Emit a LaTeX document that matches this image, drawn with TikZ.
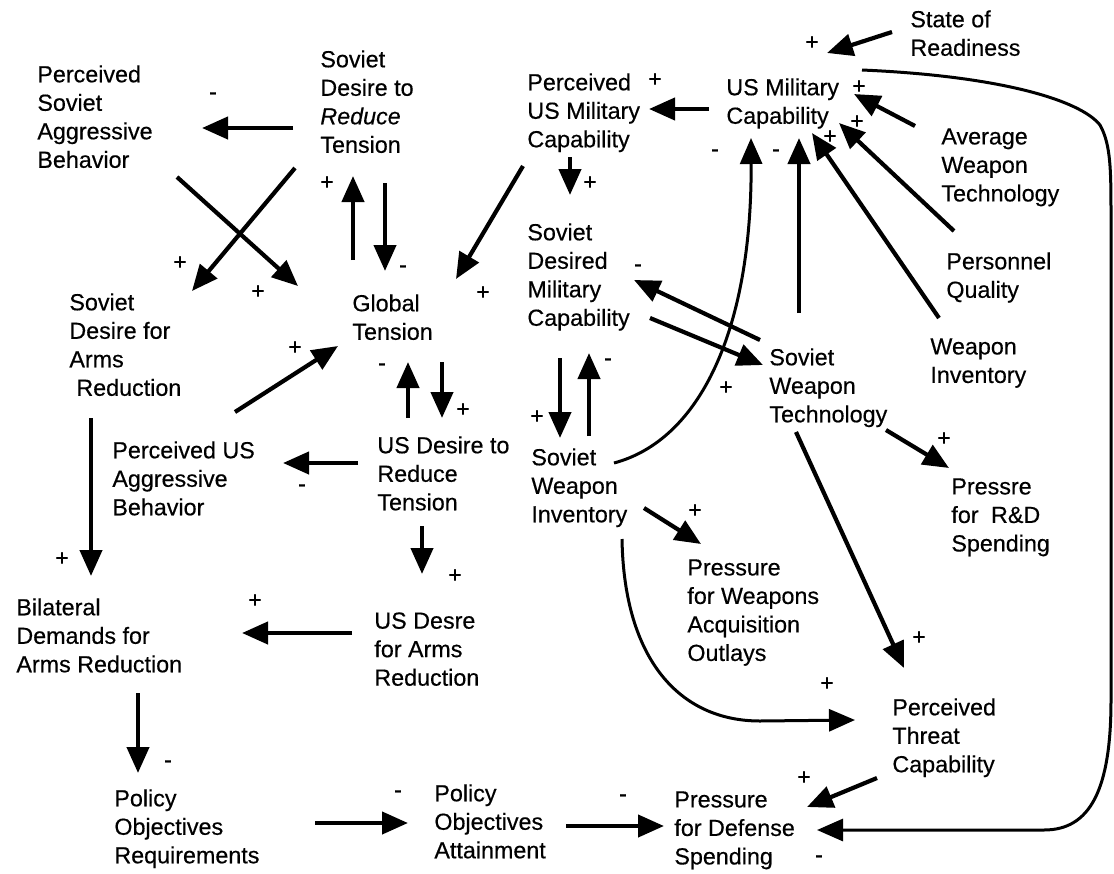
\documentclass[tikz,border=0pt]{standalone}
\usepackage{fontspec}
\setmainfont[FakeBold=0.4]{Liberation Sans}
\usepackage{tikz}
\usetikzlibrary{arrows.meta}

\begin{document}
\begin{tikzpicture}[x=0.5pt, y=-0.5pt,
    var/.style={align=left, anchor=north west, inner sep=0pt,
    font=\fontsize{11.65}{14.25}\selectfont},
    sign/.style={inner sep=0pt, font=\fontsize{11.65}{14.25}\selectfont},
    flow/.style={-{Triangle[length=13pt, width=11pt]}, line width=2.1pt},
    loopflow/.style={-{Triangle[length=13pt, width=11pt]}, line width=1.5pt}
]
\useasboundingbox (0,0) rectangle (1114,873);

% left column
\node[var] (psab) at (37,65) {Perceived\\Soviet\\Aggressive\\Behavior};
\node[var] (sdar) at (69,293) {Soviet\\Desire for\\Arms\\\hspace{3.5pt}Reduction};
\node[var] (pusab) at (112,441) {Perceived US\\Aggressive\\Behavior};
\node[var] (bdar) at (16,598) {Bilateral\\Demands for\\Arms Reduction};
\node[var] (por) at (114,789) {Policy\\Objectives\\Requirements};
% tension
\node[var] (sdrt) at (320,50) {Soviet\\Desire to\\\textit{Reduce}\\Tension};
\node[var] (gt) at (352,294) {Global\\Tension};
\node[var] (usdrt) at (377,436) {US Desire to\\Reduce\\Tension};
\node[var] (usdar) at (374,612) {US Desre\\for Arms\\Reduction};
\node[var] (poa) at (434,784) {Policy\\Objectives\\Attainment};
% soviet side
\node[var] (pusmc) at (527,73) {Perceived\\US Military\\Capability};
\node[var] (sdmc) at (527,223) {Soviet\\Desired\\Military\\Capability};
\node[var] (swi) at (531,448) {Soviet\\Weapon\\Inventory};
\node[var] (pwao) at (687,559) {Pressure\\for Weapons\\Acquisition\\Outlays};
\node[var] (pds) at (674,791) {Pressure\\for Defense\\Spending};
% US capability
\node[var] (usmc) at (726,78) {US Military\\Capability};
\node[var] (sor) at (910,10) {State of\\Readiness};
\node[var] (awt) at (941,128) {Average\\Weapon\\Technology};
\node[var] (pq) at (946,252) {Personnel\\Quality};
\node[var] (wi) at (930,338) {Weapon\\Inventory};
\node[var] (swt) at (769,348) {Soviet\\Weapon\\Technology};
\node[var] (prd) at (951,478) {Pressre\\for\hspace{3pt} R\&D\\Spending};
\node[var] (ptc) at (892,698) {Perceived\\Threat\\Capability};

% links round global tension
\draw[flow] ([shift={(-27,78)}]sdrt.north west) -- ([shift={(165,63)}]psab.north west);
\draw[flow] ([shift={(140,112)}]psab.north west) -- ([shift={(-54,-8)}]gt.north west);
\draw[flow] ([shift={(-25,118)}]sdrt.north west) -- ([shift={(123,-2)}]sdar.north west);
\draw[flow] ([shift={(1,-34)}]gt.north west) -- ([shift={(33,126)}]sdrt.north west);
\draw[flow] ([shift={(65,133)}]sdrt.north west) -- ([shift={(33,-23)}]gt.north west);
\draw[flow] ([shift={(-4,93)}]pusmc.north west) -- ([shift={(104,-15)}]gt.north west);
\draw[flow] ([shift={(166,119)}]sdar.north west) -- ([shift={(-14,52)}]gt.north west);
\draw[flow] ([shift={(31,-18)}]usdrt.north west) -- ([shift={(56,68)}]gt.north west);
\draw[flow] ([shift={(90,68)}]gt.north west) -- ([shift={(65,-18)}]usdrt.north west);
\draw[flow] ([shift={(22,125)}]sdar.north west) -- ([shift={(75,-22)}]bdar.north west);
\draw[flow] ([shift={(-19,27)}]usdrt.north west) -- ([shift={(171,22)}]pusab.north west);
\draw[flow] ([shift={(45,90)}]usdrt.north west) -- ([shift={(48,-38)}]usdar.north west);
\draw[flow] ([shift={(-22,21)}]usdar.north west) -- ([shift={(226,35)}]bdar.north west);
\draw[flow] ([shift={(122,95)}]bdar.north west) -- ([shift={(24,-16)}]por.north west);
\draw[flow] ([shift={(201,34)}]por.north west) -- ([shift={(-26,39)}]poa.north west);
\draw[flow] ([shift={(132,42)}]poa.north west) -- ([shift={(-10,35)}]pds.north west);

% links round US military capability
\draw[flow] ([shift={(-18,22)}]sor.north west) -- ([shift={(101,-25)}]usmc.north west);
\draw[flow] ([shift={(-26,-2)}]awt.north west) -- ([shift={(128,16)}]usmc.north west);
\draw[flow] ([shift={(8,-21)}]pq.north west) -- ([shift={(113,45)}]usmc.north west);
\draw[flow] ([shift={(9,-20)}]wi.north west) -- ([shift={(86,55)}]usmc.north west);
\draw[flow] ([shift={(30,-35)}]swt.north west) -- ([shift={(73,60)}]usmc.north west);
\draw[flow] ([shift={(-17,31)}]usmc.north west) -- ([shift={(122,36)}]pusmc.north west);
\draw[flow] ([shift={(43,84)}]pusmc.north west) -- ([shift={(43,-28)}]sdmc.north west);
\draw[flow] ([shift={(123,95)}]sdmc.north west) -- ([shift={(-6,17)}]swt.north west);
\draw[flow] ([shift={(-9,-8)}]swt.north west) -- ([shift={(107,57)}]sdmc.north west);
\draw[flow] ([shift={(33,135)}]sdmc.north west) -- ([shift={(29,-10)}]swi.north west);
\draw[flow] ([shift={(58,-12)}]swi.north west) -- ([shift={(62,130)}]sdmc.north west);
\draw[flow] ([shift={(117,82)}]swt.north west) -- ([shift={(-2,-10)}]prd.north west);
\draw[flow] ([shift={(27,84)}]swt.north west) -- ([shift={(12,-30)}]ptc.north west);
\draw[flow] ([shift={(113,60)}]swi.north west) -- ([shift={(14,-15)}]pwao.north west);
\draw[flow] ([shift={(-15,80)}]ptc.north west) -- ([shift={(133,16)}]pds.north west);

% curved links
\draw[loopflow] ([shift={(83,15)}]swi.north west) .. controls (700,440) and (752,330)
    .. ([shift={(25,60)}]usmc.north west);
\draw[loopflow] ([shift={(91,91)}]swi.north west) .. controls (624,660) and (680,721)
    .. (760,721) -- ([shift={(-37,22)}]ptc.north west);
\draw[loopflow] ([shift={(136,-8)}]usmc.north west) .. controls (1000,76) and (1080,100)
    .. (1100,125) .. controls (1111,145) and (1111,170) .. (1111,220) -- (1111,700)
    .. controls (1111,790) and (1090,830) .. (1044,830) -- ([shift={(143,39)}]pds.north west);

% polarities
\node[sign] (sg1) at (213,96) {-};
\node[sign] (sg2) at (258,292) {+};
\node[sign] (sg3) at (180,263) {+};
\node[sign] (sg4) at (327,183) {+};
\node[sign] (sg5) at (403,269) {-};
\node[sign] (sg6) at (483,293) {+};
\node[sign] (sg7) at (295,348) {+};
\node[sign] (sg8) at (382,367) {-};
\node[sign] (sg9) at (463,410) {+};
\node[sign] (sg10) at (62,559) {+};
\node[sign] (sg11) at (302,488) {-};
\node[sign] (sg12) at (455,576) {+};
\node[sign] (sg13) at (255,601) {+};
\node[sign] (sg14) at (168,764) {-};
\node[sign] (sg15) at (398,794) {-};
\node[sign] (sg16) at (623,798) {-};
\node[sign] (sg17) at (804,778) {+};
\node[sign] (sg18) at (819,859) {-};
\node[sign] (sg19) at (812,43) {+};
\node[sign] (sg20) at (859,87) {+};
\node[sign] (sg21) at (857,122) {+};
\node[sign] (sg22) at (830,137) {+};
\node[sign] (sg23) at (776,153) {-};
\node[sign] (sg24) at (715,153) {-};
\node[sign] (sg25) at (655,80) {+};
\node[sign] (sg26) at (590,183) {+};
\node[sign] (sg27) at (726,388) {+};
\node[sign] (sg28) at (638,268) {-};
\node[sign] (sg29) at (537,417) {+};
\node[sign] (sg30) at (608,362) {-};
\node[sign] (sg31) at (944,439) {+};
\node[sign] (sg32) at (919,638) {+};
\node[sign] (sg33) at (695,511) {+};
\node[sign] (sg34) at (827,684) {+};
\end{tikzpicture}
\end{document}
